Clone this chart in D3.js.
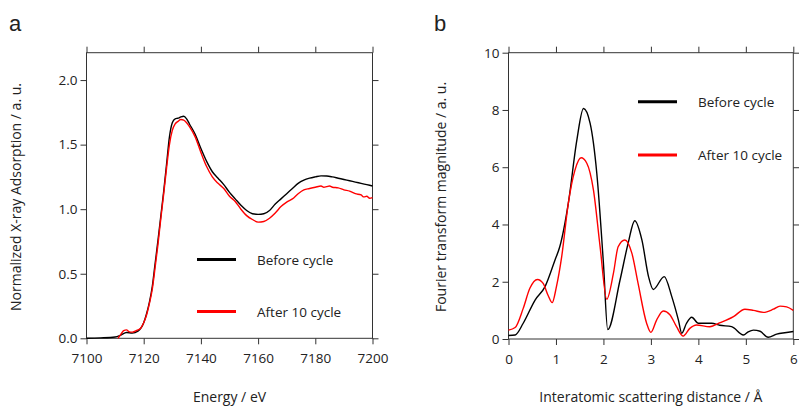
<!DOCTYPE html>
<html>
<head>
<meta charset="utf-8">
<script src="https://cdn.jsdelivr.net/npm/d3@7"></script>
<style>
  body { margin: 0; background: #fff; }
  svg text { font-family: "Open Sans", Lato, sans-serif; fill: #222; }
</style>
</head>
<body>
<svg id="chart" width="799" height="406"></svg>
<script>
// panel a: XANES
var energy = [7100,7105,7110,7112,7114,7116,7118,7120,7121,7122,7123,7124,7125,7126,7127,7128,7129,7130,7131,7132,7133,7134,7135,7136,7138,7140,7142,7144,7146,7148,7150,7152,7154,7156,7158,7160,7162,7164,7166,7168,7170,7172,7174,7176,7178,7180,7182,7184,7186,7188,7190,7192,7194,7196,7198,7200];
var xanesBefore = [0.0,0.003,0.01,0.025,0.045,0.04,0.055,0.12,0.19,0.28,0.40,0.58,0.76,0.95,1.14,1.35,1.56,1.67,1.70,1.705,1.715,1.72,1.70,1.66,1.58,1.47,1.37,1.29,1.24,1.19,1.13,1.08,1.03,0.99,0.965,0.96,0.965,0.99,1.04,1.08,1.12,1.16,1.20,1.225,1.24,1.25,1.258,1.257,1.25,1.24,1.23,1.22,1.21,1.20,1.19,1.18];

var energyAfter = [7111,7112,7113,7114,7115,7116,7117,7118,7119,7120,7121,7122,7123,7124,7125,7126,7127,7128,7129,7130,7131,7132,7133,7134,7135,7136,7138,7140,7142,7144,7146,7148,7150,7152,7154,7156,7158,7160,7162,7164,7166,7168,7170,7172,7174,7176,7178,7180,7182,7183,7184,7185,7186,7188,7190,7192,7194,7196,7197,7198,7199,7200];
var xanesAfter = [0.0,0.03,0.06,0.065,0.05,0.048,0.055,0.065,0.08,0.12,0.18,0.27,0.38,0.55,0.73,0.93,1.12,1.32,1.50,1.61,1.66,1.68,1.695,1.69,1.67,1.64,1.56,1.44,1.33,1.25,1.20,1.16,1.10,1.06,1.00,0.95,0.92,0.90,0.905,0.93,0.97,1.02,1.055,1.08,1.12,1.15,1.16,1.17,1.18,1.17,1.175,1.18,1.17,1.165,1.15,1.14,1.12,1.11,1.095,1.10,1.085,1.09];

// panel b: Fourier transform
var rBefore = [0.0,0.14,0.31,0.56,0.77,0.98,1.08,1.26,1.44,1.58,1.72,1.86,2.0,2.09,2.35,2.52,2.66,2.81,2.95,3.05,3.28,3.44,3.58,3.65,3.75,3.86,4.0,4.28,4.45,4.70,4.95,5.05,5.16,5.3,5.47,5.65,5.82,6.0];
var ftBefore = [0.12,0.14,0.55,1.36,1.83,2.76,3.22,4.74,6.95,8.05,7.53,5.79,2.64,0.33,2.06,3.34,4.13,3.46,2.18,1.73,2.18,1.48,0.66,0.2,0.55,0.76,0.55,0.55,0.48,0.43,0.14,0.25,0.31,0.27,0.06,0.17,0.22,0.26];

var rAfter = [0.0,0.14,0.31,0.45,0.61,0.73,0.84,0.92,1.01,1.12,1.26,1.40,1.53,1.65,1.79,1.93,2.07,2.21,2.31,2.45,2.60,2.73,2.91,3.0,3.12,3.26,3.40,3.54,3.68,3.82,3.96,4.24,4.46,4.74,4.98,5.16,5.37,5.58,5.72,5.86,6.0];
var ftAfter = [0.31,0.4,1.07,1.77,2.08,1.94,1.5,1.27,1.83,2.87,4.74,5.9,6.33,6.14,5.2,3.22,1.39,2.29,3.22,3.46,2.99,1.94,0.55,0.23,0.66,0.98,0.85,0.43,0.10,0.37,0.49,0.43,0.57,0.78,1.04,1.0,0.93,1.04,1.15,1.12,1.0];

var seriesNames = ["Before cycle", "After 10 cycle"];
var seriesColors = ["#000000", "#ff0000"];

var svg = d3.select("#chart");

function panel(opt){
    var g = svg.append("g");
    var x = d3.scaleLinear().domain(opt.xDomain).range([opt.left, opt.right]);
    var y = d3.scaleLinear().domain(opt.yDomain).range([opt.bottom, opt.top]);

    // frame
    g.append("rect")
        .attr("x", opt.left).attr("y", opt.top)
        .attr("width", opt.right - opt.left).attr("height", opt.bottom - opt.top)
        .attr("fill", "none").attr("stroke", "#333").attr("stroke-width", 1);

    var axB = g.append("g").attr("transform", "translate(0," + opt.bottom + ")")
        .call(d3.axisBottom(x).tickValues(opt.xTicks).tickSize(6).tickPadding(9).tickFormat(opt.xFmt));
    var axT = g.append("g").attr("transform", "translate(0," + opt.top + ")")
        .call(d3.axisTop(x).tickValues(opt.xTicks).tickSize(6).tickFormat(""));
    var axL = g.append("g").attr("transform", "translate(" + opt.left + ",0)")
        .call(d3.axisLeft(y).tickValues(opt.yTicks).tickSize(6).tickPadding(3).tickFormat(opt.yFmt));
    var axR = g.append("g").attr("transform", "translate(" + opt.right + ",0)")
        .call(d3.axisRight(y).tickValues(opt.yTicksR).tickSize(6).tickFormat(""));

    [axB, axT, axL, axR].forEach(function(a){
        a.select(".domain").remove();
        a.selectAll("line").attr("stroke", "#333");
        a.selectAll("text").style("font-size", "13.5px").attr("fill", "#222")
            .style("font-family", "'Open Sans', Lato, sans-serif");
    });

    var line = d3.line()
        .x(function(d){ return x(d[0]); })
        .y(function(d){ return y(d[1]); })
        .curve(d3.curveMonotoneX);

    opt.series.forEach(function(s, i){
        g.append("path")
            .datum(d3.zip(s.xs, s.ys))
            .attr("d", line)
            .attr("fill", "none")
            .attr("stroke", seriesColors[i])
            .attr("stroke-width", 1.4);
    });

    // legend
    seriesNames.forEach(function(name, i){
        var ly = opt.legendY[i];
        g.append("line")
            .attr("x1", opt.legendX).attr("x2", opt.legendX + 39)
            .attr("y1", ly).attr("y2", ly)
            .attr("stroke", seriesColors[i]).attr("stroke-width", 3);
        g.append("text")
            .attr("x", opt.legendX + 60).attr("y", ly + 5)
            .style("font-size", "13.5px")
            .text(name);
    });

    g.append("text")
        .attr("x", (opt.left + opt.right) / 2).attr("y", 402)
        .attr("text-anchor", "middle").style("font-size", "14px")
        .text(opt.xTitle);

    g.append("text")
        .attr("transform", "translate(" + opt.yTitleX + ",197) rotate(-90)")
        .attr("text-anchor", "middle").style("font-size", "14px")
        .text(opt.yTitle);

    g.append("text")
        .attr("x", opt.labelX).attr("y", 31)
        .style("font-family", "Liberation Sans, Arial, sans-serif")
        .style("font-size", "22px")
        .text(opt.label);
}

panel({
    left: 86.5, right: 372.5, top: 52.7, bottom: 338.3,
    xDomain: [7100, 7200], yDomain: [0, 2.212],
    xTicks: [7100, 7120, 7140, 7160, 7180, 7200],
    yTicks: [0, 0.5, 1, 1.5, 2], yTicksR: [0, 0.5, 1, 1.5, 2],
    xFmt: d3.format("d"), yFmt: d3.format(".1f"),
    series: [{xs: energy, ys: xanesBefore}, {xs: energyAfter, ys: xanesAfter}],
    legendX: 197, legendY: [259.5, 311.5],
    xTitle: "Energy / eV",
    yTitle: "Normalized X-ray Adsorption / a. u.",
    yTitleX: 21, labelX: 9, label: "a"
});

panel({
    left: 508.5, right: 793.3, top: 52.7, bottom: 339,
    xDomain: [0, 6], yDomain: [0, 10],
    xTicks: [0, 1, 2, 3, 4, 5, 6],
    yTicks: [0, 2, 4, 6, 8, 10], yTicksR: [0, 2, 4, 6, 8, 10],
    xFmt: d3.format("d"), yFmt: d3.format("d"),
    series: [{xs: rBefore, ys: ftBefore}, {xs: rAfter, ys: ftAfter}],
    legendX: 638, legendY: [101.7, 155],
    xTitle: "Interatomic scattering distance / Å",
    yTitle: "Fourier transform magnitude / a. u.",
    yTitleX: 446, labelX: 434, label: "b"
});
</script>
</body>
</html>
